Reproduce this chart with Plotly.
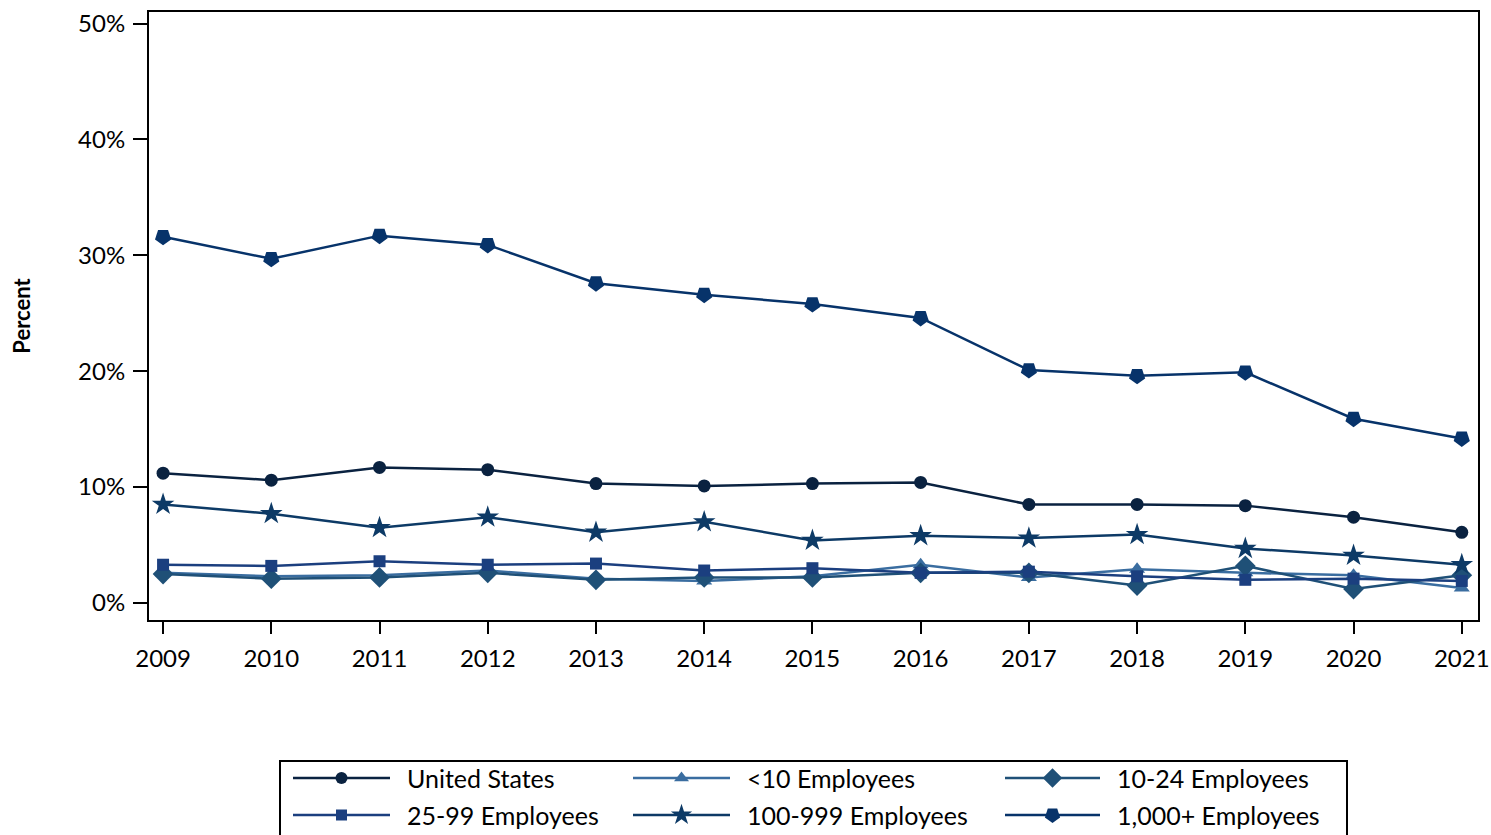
import plotly.graph_objects as go

years = [2009, 2010, 2011, 2012, 2013, 2014, 2015, 2016, 2017, 2018, 2019, 2020, 2021]
united_states = [11.2, 10.6, 11.7, 11.5, 10.3, 10.1, 10.3, 10.4, 8.5, 8.5, 8.4, 7.4, 6.1]
lt10 = [2.6, 2.3, 2.4, 2.8, 2.1, 1.9, 2.3, 3.3, 2.2, 2.9, 2.6, 2.4, 1.3]
e10_24 = [2.5, 2.1, 2.2, 2.6, 2.0, 2.2, 2.2, 2.6, 2.6, 1.5, 3.2, 1.2, 2.4]
e25_99 = [3.3, 3.2, 3.6, 3.3, 3.4, 2.8, 3.0, 2.6, 2.7, 2.3, 2.0, 2.1, 1.9]
e100_999 = [8.5, 7.7, 6.5, 7.4, 6.1, 7.0, 5.4, 5.8, 5.6, 5.9, 4.7, 4.1, 3.3]
e1000 = [31.6, 29.7, 31.7, 30.9, 27.6, 26.6, 25.8, 24.6, 20.1, 19.6, 19.9, 15.9, 14.2]

names = ["United States", "<10 Employees", "10-24 Employees",
         "25-99 Employees", "100-999 Employees", "1,000+ Employees"]
values = [united_states, lt10, e10_24, e25_99, e100_999, e1000]
colors = ["#0a2240", "#3a6da0", "#1f5077", "#1b3f7f", "#0d3a66", "#07336a"]
symbols = ["circle", "triangle-up", "diamond", "square", "star", "pentagon"]
angles = [0, 0, 0, 0, 0, 180]
sizes = [13, 14, 16, 12, 17, 17]

W, H = 1491, 835
FONT = "Lato"

fig = go.Figure()
for nm, v, c, s, a, sz in zip(names, values, colors, symbols, angles, sizes):
    fig.add_trace(go.Scatter(
        x=years, y=v, name=nm, mode="lines+markers",
        line=dict(color=c, width=2.5),
        marker=dict(symbol=s, size=sz, color=c, angle=a),
        cliponaxis=False, showlegend=False, xaxis="x", yaxis="y"))

# custom legend (glyphs drawn on a hidden helper axis in pixel units)
col_line = [(293, 390), (633, 730), (1005, 1100)]
row_y = [778, 815]
for i, (nm, c, s, a, sz) in enumerate(zip(names, colors, symbols, angles, sizes)):
    r, cidx = divmod(i, 3)
    x0, x1 = col_line[cidx]
    yy = row_y[r]
    fig.add_trace(go.Scatter(
        x=[x0, x1], y=[yy, yy], mode="lines", line=dict(color=c, width=2.5),
        showlegend=False, hoverinfo="skip", cliponaxis=False,
        xaxis="x2", yaxis="y2"))
    fig.add_trace(go.Scatter(
        x=[(x0 + x1) / 2], y=[yy], mode="markers",
        marker=dict(symbol=s, size=sz - 1, color=c, angle=a),
        showlegend=False, hoverinfo="skip", cliponaxis=False,
        xaxis="x2", yaxis="y2"))
    fig.add_annotation(x=x1 + 15, y=yy, xref="x2", yref="y2", text=nm,
                       showarrow=False, xanchor="left", yanchor="middle",
                       font=dict(family=FONT, size=25, color="black"))

fig.add_shape(type="rect", xref="paper", yref="paper",
              x0=280 / W, x1=1347 / W, y0=-0.02, y1=(H - 761) / H,
              line=dict(color="black", width=2), fillcolor="rgba(0,0,0,0)")

fig.update_layout(
    width=W, height=H,
    margin=dict(l=0, r=0, t=0, b=0),
    paper_bgcolor="white", plot_bgcolor="white",
    font=dict(family=FONT, size=24, color="black"),
    xaxis=dict(
        domain=[149 / W, 1478 / W], range=[2008.87, 2021.15],
        tickmode="array", tickvals=years, ticktext=[str(y) for y in years],
        ticks="outside", ticklen=12, tickwidth=2, tickcolor="black",
        ticklabelstandoff=4,
        showline=True, linecolor="black", linewidth=2, mirror=True,
        showgrid=False, zeroline=False, automargin=False,
        tickfont=dict(family=FONT, size=24, color="black"),
        anchor="y"),
    yaxis=dict(
        domain=[(H - 620) / H, (H - 12) / H], range=[-1.47, 51.0],
        tickmode="array", tickvals=[0, 10, 20, 30, 40, 50],
        ticktext=["0%", "10%", "20%", "30%", "40%", "50%"],
        ticks="outside", ticklen=14, tickwidth=2, tickcolor="black",
        ticklabelstandoff=3,
        showline=True, linecolor="black", linewidth=2, mirror=True,
        showgrid=False, zeroline=False, automargin=False,
        tickfont=dict(family=FONT, size=24, color="black"),
        title=dict(text="<b>Percent</b>", standoff=41,
                   font=dict(family=FONT, size=22, color="black")),
        anchor="x"),
    xaxis2=dict(domain=[0, 1], range=[0, W], visible=False, anchor="y2"),
    yaxis2=dict(domain=[0, (H - 761) / H], range=[H, 761], visible=False, anchor="x2"),
)

fig.write_html("out.html", config={"displayModeBar": False},
               post_script="document.body.style.margin='0';document.body.style.padding='0';document.body.style.overflow='hidden';")
